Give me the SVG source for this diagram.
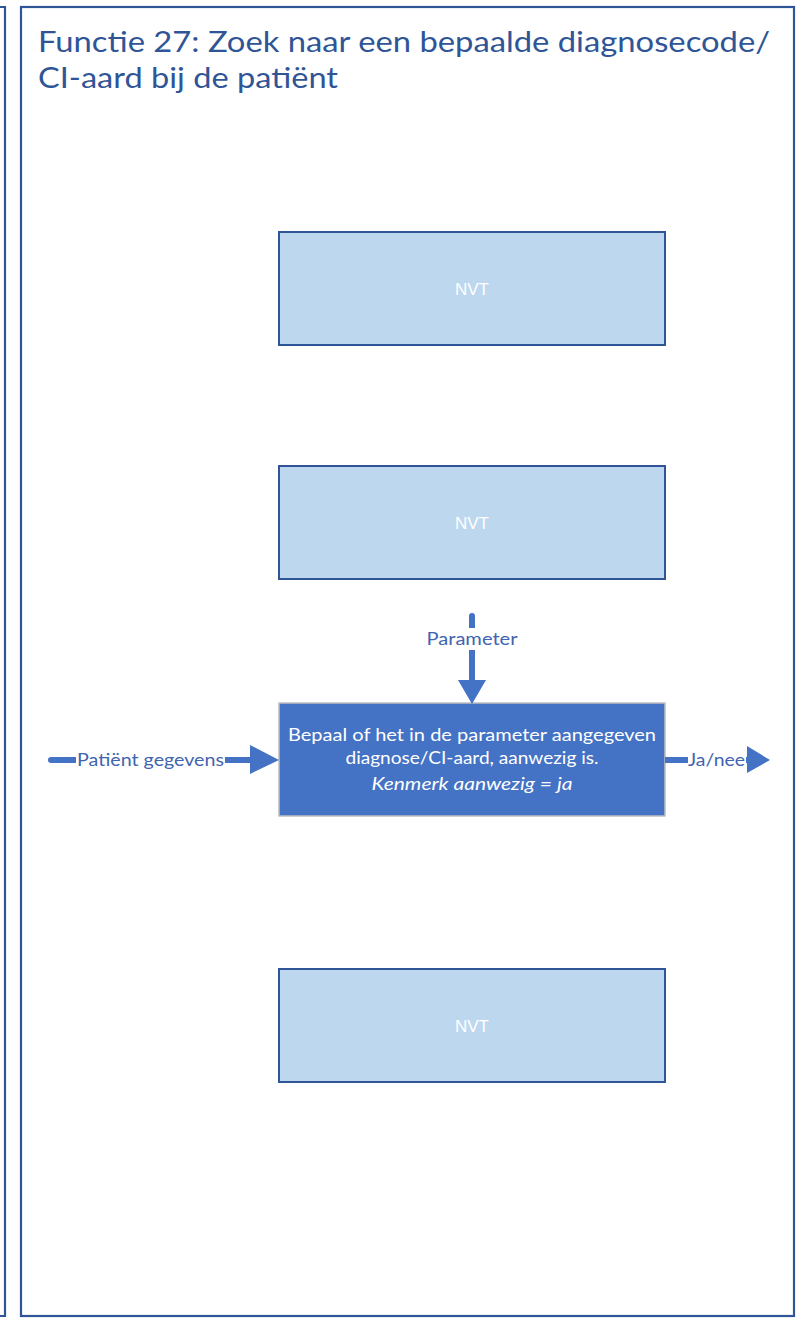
<svg xmlns="http://www.w3.org/2000/svg" width="805" height="1320" viewBox="0 0 805 1320">
<style>
.frame{fill:none;stroke:#2F5597;stroke-width:2.2}
.nvt{fill:#BDD7EE;stroke:#2F5597;stroke-width:2}
.nvtt{fill:#FFFFFF;font-family:"Liberation Sans",Arial,sans-serif;font-size:17px;text-anchor:middle}
.main{fill:#4472C4;stroke:#BFBFBF;stroke-width:1.5}
.mt{fill:#FFFFFF;font-family:Lato,"Open Sans","Liberation Sans",sans-serif;font-size:17px;text-anchor:middle}
.title{fill:#2F5597;font-family:Lato,"Open Sans","Liberation Sans",sans-serif;font-size:29px}
.conn{stroke:#4472C4;stroke-width:6;fill:none;stroke-linecap:round}
.head{fill:#4472C4}
.lbl{fill:#3F64B0;font-family:Lato,"Open Sans","Liberation Sans",sans-serif;font-size:17px}
</style>
<rect width="805" height="1320" fill="#FFFFFF"/>
<g id="frames">
<polyline class="frame" points="0,7 5,7 5,1316 0,1316"/>
<rect class="frame" x="21" y="7" width="773" height="1309"/>
</g>
<g id="title">
<text class="title" x="38" y="52" textLength="732" lengthAdjust="spacingAndGlyphs">Functie 27: Zoek naar een bepaalde diagnosecode/</text>
<text class="title" x="38" y="88" textLength="300" lengthAdjust="spacingAndGlyphs">CI-aard bij de patiënt</text>
</g>
<g id="nvt1">
<rect class="nvt" x="279" y="232" width="386" height="113"/>
<text class="nvtt" x="472" y="295">NVT</text>
</g>
<g id="nvt2">
<rect class="nvt" x="279" y="466" width="386" height="113"/>
<text class="nvtt" x="472" y="529">NVT</text>
</g>
<g id="main">
<rect class="main" x="279" y="703" width="386" height="113"/>
<text class="mt" x="472" y="741" textLength="368" lengthAdjust="spacingAndGlyphs">Bepaal of het in de parameter aangegeven</text>
<text class="mt" x="472" y="764" textLength="253" lengthAdjust="spacingAndGlyphs">diagnose/CI-aard, aanwezig is.</text>
<text class="mt" x="472" y="790" font-style="italic" textLength="201" lengthAdjust="spacingAndGlyphs">Kenmerk aanwezig = ja</text>
</g>
<g id="nvt3">
<rect class="nvt" x="279" y="969" width="386" height="113"/>
<text class="nvtt" x="472" y="1032">NVT</text>
</g>
<g id="connectors">
<line class="conn" x1="472" y1="616" x2="472" y2="684"/>
<polygon class="head" points="458,680 486,680 472,704"/>
<rect x="425" y="628" width="94" height="22" fill="#FFFFFF"/>
<text class="lbl" x="472" y="645" text-anchor="middle" textLength="91" lengthAdjust="spacingAndGlyphs">Parameter</text>
<line class="conn" x1="51" y1="760" x2="254" y2="760"/>
<polygon class="head" points="250,745 250,774 279,760"/>
<rect x="76" y="749" width="149" height="22" fill="#FFFFFF"/>
<text class="lbl" x="77" y="766" textLength="147" lengthAdjust="spacingAndGlyphs">Patiënt gegevens</text>
<line x1="665" y1="760" x2="750" y2="760" stroke="#4472C4" stroke-width="6"/>
<rect x="688" y="749" width="58" height="22" fill="#FFFFFF"/>
<text class="lbl" x="688" y="766" textLength="57" lengthAdjust="spacingAndGlyphs">Ja/nee</text>
<polygon class="head" points="747,746 747,773 770,760"/>
</g>
</svg>
